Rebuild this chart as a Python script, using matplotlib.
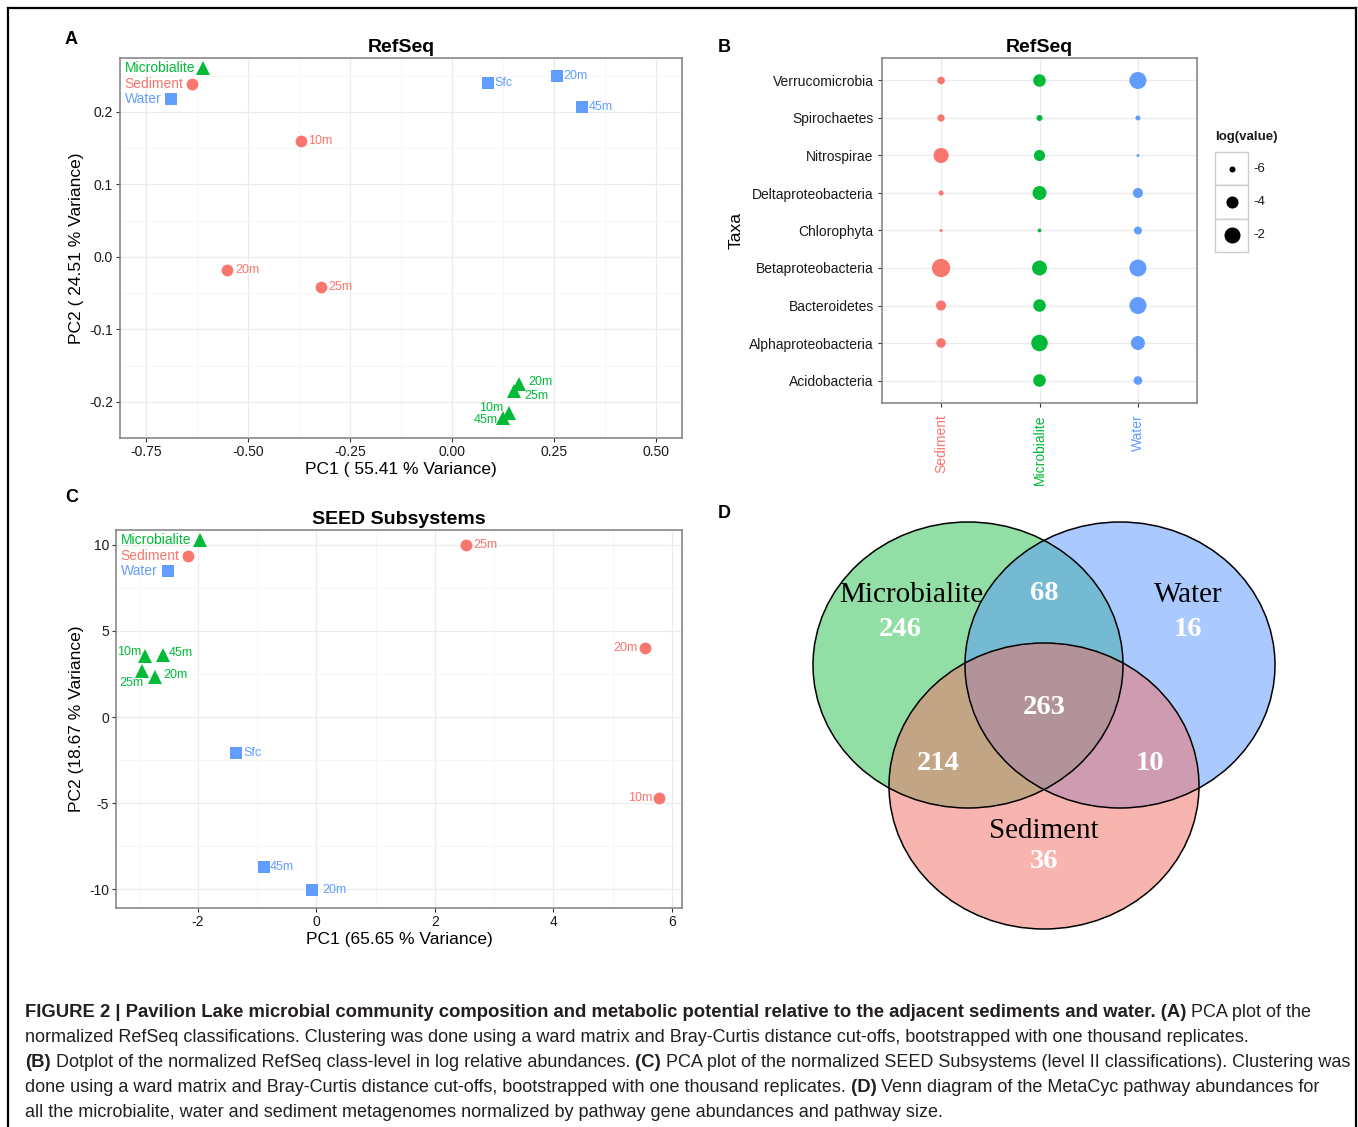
import numpy as np
import matplotlib
matplotlib.use("Agg")
import matplotlib.pyplot as plt
from matplotlib.patches import Ellipse, Rectangle
from matplotlib.ticker import MultipleLocator, FormatStrFormatter

plt.rcParams['font.family'] = ['Liberation Sans', 'DejaVu Sans']
plt.rcParams['axes.unicode_minus'] = False

W, H = 1358, 1127
RED, GREEN, BLUE = "#F8766D", "#00BA38", "#619CFF"
TXT = "#1a1a1a"
CAP = "#231F20"

# ---- data ----
# A: RefSeq PCA
refseq_mic_sites = ["20m", "25m", "10m", "45m"]
refseq_mic_pc1 = [0.164, 0.152, 0.140, 0.125]
refseq_mic_pc2 = [-0.175, -0.185, -0.215, -0.223]
refseq_sed_sites = ["10m", "20m", "25m"]
refseq_sed_pc1 = [-0.370, -0.551, -0.321]
refseq_sed_pc2 = [0.160, -0.018, -0.041]
refseq_wat_sites = ["Sfc", "20m", "45m"]
refseq_wat_pc1 = [0.088, 0.257, 0.319]
refseq_wat_pc2 = [0.240, 0.250, 0.207]

# B: dotplot, log relative abundance
taxa = ["Verrucomicrobia", "Spirochaetes", "Nitrospirae", "Deltaproteobacteria",
        "Chlorophyta", "Betaproteobacteria", "Bacteroidetes", "Alphaproteobacteria",
        "Acidobacteria"]
dot_groups = ["Sediment", "Microbialite", "Water"]
log_sediment = [-5.6, -5.7, -2.5, -6.2, -6.5, -0.6, -4.8, -5.0, np.nan]
log_microbialite = [-3.8, -6.0, -4.4, -3.1, -6.4, -2.6, -3.8, -1.7, -3.8]
log_water = [-1.4, -6.2, -6.5, -4.8, -5.5, -1.4, -1.4, -3.1, -5.3]
size_breaks = [-6, -4, -2]

# C: SEED PCA
seed_mic_sites = ["10m", "45m", "25m", "20m"]
seed_mic_pc1 = [-2.89, -2.58, -2.94, -2.72]
seed_mic_pc2 = [3.55, 3.60, 2.67, 2.33]
seed_sed_sites = ["25m", "20m", "10m"]
seed_sed_pc1 = [2.53, 5.54, 5.79]
seed_sed_pc2 = [10.0, 4.01, -4.71]
seed_wat_sites = ["Sfc", "45m", "20m"]
seed_wat_pc1 = [-1.35, -0.88, -0.08]
seed_wat_pc2 = [-2.09, -8.72, -10.06]

# D: Venn counts
venn_sets = ["Microbialite", "Water", "Sediment"]
venn_only = [246, 16, 36]
venn_mic_wat, venn_mic_sed, venn_wat_sed, venn_all = 68, 214, 10, 263

# label offsets (pixels) for point annotations
offsets_a = {
    ("mic", "20m"): (9, 2, "left"), ("mic", "25m"): (10, -5, "left"),
    ("mic", "10m"): (-6, 5, "right"), ("mic", "45m"): (-5, -2, "right"),
    ("sed", "10m"): (7, 0, "left"), ("sed", "20m"): (8, 0, "left"),
    ("sed", "25m"): (7, 0, "left"),
    ("wat", "Sfc"): (7, 0, "left"), ("wat", "20m"): (7, 0, "left"),
    ("wat", "45m"): (7, 0, "left"),
}
offsets_c = {
    ("mic", "10m"): (-4, 4, "right"), ("mic", "45m"): (5, 2, "left"),
    ("mic", "25m"): (1, -12, "right"), ("mic", "20m"): (8, 2, "left"),
    ("sed", "25m"): (7, 0, "left"), ("sed", "20m"): (-7, 0, "right"),
    ("sed", "10m"): (-7, 0, "right"),
    ("wat", "Sfc"): (7, 0, "left"), ("wat", "45m"): (6, 0, "left"),
    ("wat", "20m"): (11, 0, "left"),
}

fig = plt.figure(figsize=(W / 100, H / 100), dpi=100)
fig.patch.set_facecolor("white")


def px_axes(l, t, r, b):
    return fig.add_axes([l / W, 1 - b / H, (r - l) / W, (b - t) / H])


def style_frame(ax):
    for s in ax.spines.values():
        s.set_color("#7F7F7F")
        s.set_linewidth(1.1)
    ax.set_axisbelow(True)
    ax.tick_params(which="major", length=3, width=0.8, color="#333333",
                   labelsize=10, labelcolor=TXT, pad=2)
    ax.tick_params(which="minor", length=0)


def pca_panel(ax, title, xlabel, ylabel, series, offsets, xlim, ylim, xstep, ystep, xfmt, yfmt):
    style_frame(ax)
    ax.xaxis.set_major_locator(MultipleLocator(xstep))
    ax.xaxis.set_minor_locator(MultipleLocator(xstep / 2))
    ax.yaxis.set_major_locator(MultipleLocator(ystep))
    ax.yaxis.set_minor_locator(MultipleLocator(ystep / 2))
    if xfmt:
        ax.xaxis.set_major_formatter(FormatStrFormatter(xfmt))
    if yfmt:
        ax.yaxis.set_major_formatter(FormatStrFormatter(yfmt))
    ax.grid(which="major", color="#EBEBEB", lw=0.9)
    ax.grid(which="minor", color="#F5F5F5", lw=0.6)
    for key, sites, xs, ys, color, mk, ms in series:
        ax.plot(xs, ys, mk, ls="none", color=color, ms=ms, mew=0)
        for s, x, y in zip(sites, xs, ys):
            dx, dy, ha = offsets[(key, s)]
            ax.annotate(s, (x, y), xytext=(dx, dy), textcoords="offset pixels",
                        ha=ha, va="center", color=color, fontsize=9)
    ax.set_xlim(*xlim)
    ax.set_ylim(*ylim)
    ax.set_title(title, fontsize=14, fontweight="bold", pad=4)
    ax.set_xlabel(xlabel, fontsize=12.5, labelpad=2)
    ax.set_ylabel(ylabel, fontsize=12.5, labelpad=4)
    # in-plot group key
    names = ["Microbialite", "Sediment", "Water"]
    cols = [GREEN, RED, BLUE]
    marks = [("^", 10), ("o", 8.5), ("s", 8)]
    mx = [0.148, 0.128, 0.091]
    my = [0.974, 0.932, 0.892]
    for n, c, (m, ms), x, y in zip(names, cols, marks, mx, my):
        ax.text(0.008, y, n, transform=ax.transAxes, color=c, fontsize=10, va="center", ha="left")
        ax.plot([x], [y], m, transform=ax.transAxes, color=c, ms=ms, mew=0, clip_on=False)


# ---- Panel A ----
axA = px_axes(120, 58, 682, 438)
pca_panel(axA, "RefSeq", "PC1 ( 55.41 % Variance)", "PC2 ( 24.51 % Variance)",
          [("mic", refseq_mic_sites, refseq_mic_pc1, refseq_mic_pc2, GREEN, "^", 10),
           ("sed", refseq_sed_sites, refseq_sed_pc1, refseq_sed_pc2, RED, "o", 8.5),
           ("wat", refseq_wat_sites, refseq_wat_pc1, refseq_wat_pc2, BLUE, "s", 8)],
          offsets_a, (-0.814, 0.564), (-0.25, 0.2745), 0.25, 0.1, "%.2f", "%.1f")

# ---- Panel C ----
axC = px_axes(116, 530, 682, 908)
pca_panel(axC, "SEED Subsystems", "PC1 (65.65 % Variance)", "PC2 (18.67 % Variance)",
          [("mic", seed_mic_sites, seed_mic_pc1, seed_mic_pc2, GREEN, "^", 10),
           ("sed", seed_sed_sites, seed_sed_pc1, seed_sed_pc2, RED, "o", 8.5),
           ("wat", seed_wat_sites, seed_wat_pc1, seed_wat_pc2, BLUE, "s", 8)],
          offsets_c, (-3.38, 6.17), (-11.1, 10.87), 2, 5, None, None)


# ---- Panel B ----
def dot_area(v):
    # area in pt^2, linear in log(value)
    d2 = 256 + 55 * (np.asarray(v, float) + 2)
    return np.clip(d2, 4, None) * 0.72 ** 2


axB = px_axes(882, 58, 1197, 403)
style_frame(axB)
ypos = np.arange(len(taxa))[::-1] + 1
for i, (vals, col) in enumerate(zip([log_sediment, log_microbialite, log_water], [RED, GREEN, BLUE])):
    vals = np.asarray(vals, float)
    ok = ~np.isnan(vals)
    axB.scatter(np.full(ok.sum(), i + 1), ypos[ok], s=dot_area(vals[ok]), color=col, lw=0)
axB.set_xlim(0.4, 3.6)
axB.set_ylim(0.4, 9.6)
axB.set_xticks([1, 2, 3])
axB.set_xticklabels(dot_groups, rotation=90, fontsize=10)
for lab, col in zip(axB.get_xticklabels(), [RED, GREEN, BLUE]):
    lab.set_color(col)
axB.set_yticks(ypos)
axB.set_yticklabels(taxa, fontsize=10)
axB.tick_params(axis="x", pad=5)
axB.tick_params(axis="y", pad=3)
axB.grid(which="major", color="#EBEBEB", lw=0.9)
axB.set_title("RefSeq", fontsize=14, fontweight="bold", pad=4)
axB.set_ylabel("Taxa", fontsize=12.5, labelpad=4)

# size legend
axL = px_axes(1215, 152, 1248, 252)
axL.set_xlim(0, 1)
axL.set_ylim(3, 0)
axL.axis("off")
for k, b in enumerate(size_breaks):
    axL.add_patch(Rectangle((0, k), 1, 1, facecolor="white", edgecolor="#CCCCCC", lw=1, clip_on=False))
    axL.scatter([0.5], [k + 0.5], s=dot_area(b), color="black", lw=0, clip_on=False)
    axL.text(1.15, k + 0.5, str(b), fontsize=9.5, va="center", ha="left", color=TXT)
axL.text(0, -0.28, "log(value)", fontsize=9.5, fontweight="bold", ha="left", va="bottom", color=TXT)

# ---- overlay (frame, panel letters, Venn, caption) ----
ov = fig.add_axes([0, 0, 1, 1])
ov.set_xlim(0, W)
ov.set_ylim(H, 0)
ov.axis("off")
ov.patch.set_visible(False)

ov.plot([8, 8], [H, 8], color="black", lw=1.6, solid_capstyle="projecting")
ov.plot([8, 1356], [8, 8], color="black", lw=1.6, solid_capstyle="projecting")
ov.plot([1356, 1356], [8, H], color="black", lw=1.6, solid_capstyle="projecting")

for letter, x, y in [("A", 65, 40), ("B", 718, 47), ("C", 65, 498), ("D", 718, 514)]:
    ov.text(x, y, letter, fontsize=13, fontweight="bold", ha="left", va="center")

# Venn geometry (pixels)
rx, ry = 155, 143
centers = [(968, 665), (1120, 665), (1044, 786)]
fills = ["#27C14F", "#5797FF", "#F36D63"]
for (cx, cy), fc in zip(centers, fills):
    ov.add_patch(Ellipse((cx, cy), 2 * rx, 2 * ry, facecolor=fc, alpha=0.5, edgecolor="none"))
for (cx, cy) in centers:
    ov.add_patch(Ellipse((cx, cy), 2 * rx, 2 * ry, facecolor="none", edgecolor="black", lw=1.1))

serif = ["Liberation Serif", "DejaVu Serif"]
name_pos = [(911, 595), (1188, 595), (1044, 831)]
only_pos = [(900, 629), (1188, 629), (1044, 861)]
for n, (x, y) in zip(venn_sets, name_pos):
    ov.text(x, y, n, family=serif, fontsize=21, ha="center", va="center", color="black")
for c, (x, y) in zip(venn_only, only_pos):
    ov.text(x, y, str(c), family=serif, fontsize=20.5, fontweight="bold", ha="center", va="center", color="white")
for c, (x, y) in zip([venn_mic_wat, venn_mic_sed, venn_wat_sed, venn_all],
                     [(1044, 593), (938, 763), (1150, 763), (1044, 707)]):
    ov.text(x, y, str(c), family=serif, fontsize=20.5, fontweight="bold", ha="center", va="center", color="white")

# caption with mixed bold / normal runs
caption = [
    [("FIGURE 2 | Pavilion Lake microbial community composition and metabolic potential relative to the adjacent sediments and water. (A)", True),
     (" PCA plot of the", False)],
    [("normalized RefSeq classifications. Clustering was done using a ward matrix and Bray-Curtis distance cut-offs, bootstrapped with one thousand replicates.", False)],
    [("(B)", True), (" Dotplot of the normalized RefSeq class-level in log relative abundances.", False),
     (" (C)", True), (" PCA plot of the normalized SEED Subsystems (level II classifications). Clustering was", False)],
    [("done using a ward matrix and Bray-Curtis distance cut-offs, bootstrapped with one thousand replicates.", False),
     (" (D)", True), (" Venn diagram of the MetaCyc pathway abundances for", False)],
    [("all the microbialite, water and sediment metagenomes normalized by pathway gene abundances and pathway size.", False)],
]
renderer = fig.canvas.get_renderer()
for i, line in enumerate(caption):
    x = 25
    y = 1017 + 25 * i
    for txt, bold in line:
        t = ov.text(x, y, txt, fontsize=13.3 if bold else 13, fontweight="bold" if bold else "normal",
                    ha="left", va="baseline", color=CAP)
        x += t.get_window_extent(renderer=renderer).width

fig.savefig("out.png", dpi=100)
